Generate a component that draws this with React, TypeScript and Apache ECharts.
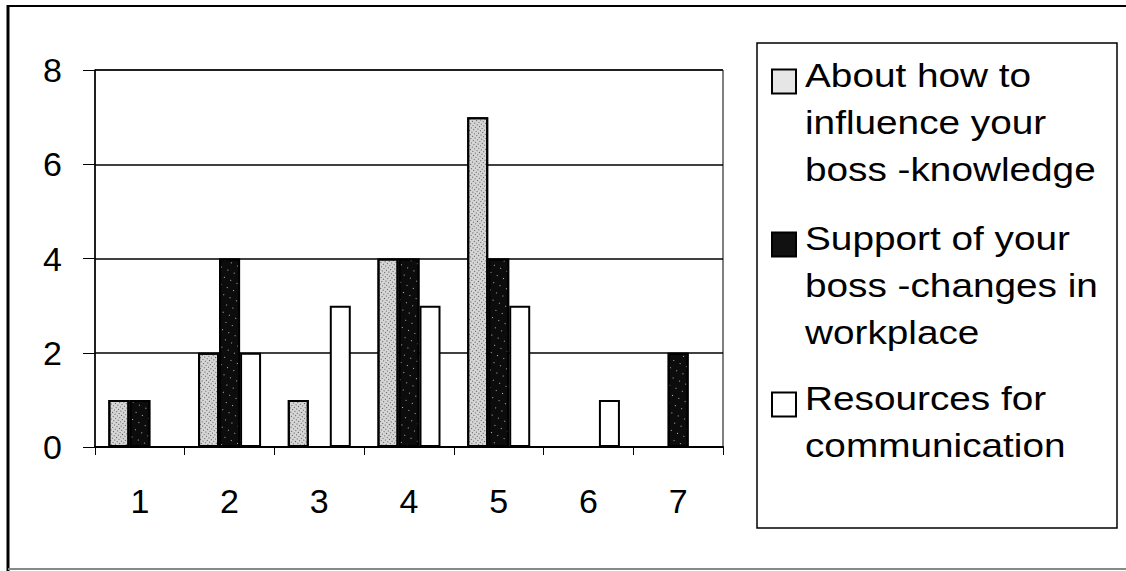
import React, { useEffect, useRef } from "react";
import * as echarts from "echarts";

// Responses per rating (1..7) for the three survey topics
const categories = ["1", "2", "3", "4", "5", "6", "7"];
const influenceKnowledge = [1, 2, 1, 4, 7, 0, 0];
const supportChanges = [1, 4, 0, 4, 4, 0, 2];
const communicationResources = [0, 2, 3, 3, 3, 1, 0];

const seriesNames = [
  "About how to influence your boss -knowledge",
  "Support of your boss -changes in workplace",
  "Resources for communication",
];
const legendLines = [
  ["About how to", "influence your", "boss -knowledge"],
  ["Support of your", "boss -changes in", "workplace"],
  ["Resources for", "communication"],
];

const FONT = "'Liberation Sans', Arial, sans-serif";

const lightSpeckle = {
  color: "#d6d6d6",
  borderColor: "#000",
  borderWidth: 2,
  decal: {
    symbol: "rect",
    symbolSize: 1,
    color: "rgba(0,0,0,0.6)",
    dashArrayX: [1, 2],
    dashArrayY: [1, 2],
    rotation: Math.PI / 5,
  },
};
const darkSpeckle = {
  color: "#0c0c0c",
  borderColor: "#000",
  borderWidth: 2,
  decal: {
    symbol: "rect",
    symbolSize: 1,
    color: "rgba(255,255,255,0.7)",
    dashArrayX: [1, 6],
    dashArrayY: [1, 7],
    rotation: Math.PI / 7,
  },
};
const plainWhite = { color: "#ffffff", borderColor: "#000", borderWidth: 2 };

export default function App() {
  const ref = useRef<HTMLDivElement>(null);

  useEffect(() => {
    if (!ref.current) return;
    const chart = echarts.init(ref.current, null, { renderer: "svg" });

    const legendStyles = [
      { fill: "#e6e6e6", stroke: "#000" },
      { fill: "#111111", stroke: "#000" },
      { fill: "#ffffff", stroke: "#000" },
    ];
    const itemTops = [51.5, 214.5, 374.5];
    const lineH = 47;

    const legendGraphics: any[] = [];
    legendLines.forEach((lines, i) => {
      const top = itemTops[i];
      legendGraphics.push({
        type: "rect",
        shape: { x: 772, y: top + 18, width: 24, height: 24 },
        style: { fill: legendStyles[i].fill, stroke: legendStyles[i].stroke, lineWidth: 2 },
      });
      legendGraphics.push({
        type: "text",
        x: 805,
        y: top,
        scaleX: 1.14,
        style: {
          text: lines.join("\n"),
          x: 0,
          y: 0,
          font: `34px ${FONT}`,
          lineHeight: lineH,
          fill: "#000",
          verticalAlign: "top",
          align: "left",
        },
      });
    });

    chart.setOption({
      animation: false,
      backgroundColor: "#ffffff",
      grid: {
        left: 95,
        right: 403,
        top: 70,
        bottom: 124,
        show: true,
        borderColor: "#000",
        borderWidth: 1,
      },
      xAxis: {
        type: "category",
        data: categories,
        boundaryGap: true,
        axisLine: { lineStyle: { color: "#000", width: 2 } },
        axisTick: { show: true, length: 8, lineStyle: { color: "#000", width: 1 } },
        axisLabel: { color: "#000", fontSize: 34, fontFamily: FONT, margin: 37 },
      },
      yAxis: {
        type: "value",
        min: 0,
        max: 8,
        interval: 2,
        axisLine: { show: true, lineStyle: { color: "#000", width: 1.5 } },
        axisTick: { show: true, length: 12, lineStyle: { color: "#000", width: 1 } },
        axisLabel: { color: "#000", fontSize: 34, fontFamily: FONT, margin: 33 },
        splitLine: { lineStyle: { color: "#000", width: 1.5 } },
      },
      series: [
        {
          name: seriesNames[0],
          type: "bar",
          data: influenceKnowledge,
          barWidth: 21,
          barGap: "0%",
          itemStyle: lightSpeckle,
        },
        {
          name: seriesNames[1],
          type: "bar",
          data: supportChanges,
          barWidth: 21,
          barGap: "0%",
          itemStyle: darkSpeckle,
        },
        {
          name: seriesNames[2],
          type: "bar",
          data: communicationResources,
          barWidth: 21,
          barGap: "0%",
          itemStyle: plainWhite,
        },
      ],
      graphic: [
        // outer frame
        { type: "line", shape: { x1: 7, y1: 6, x2: 1126, y2: 6 }, style: { stroke: "#000", lineWidth: 2 } },
        { type: "line", shape: { x1: 8, y1: 5, x2: 8, y2: 571 }, style: { stroke: "#000", lineWidth: 3 } },
        { type: "line", shape: { x1: 8, y1: 569, x2: 1126, y2: 569 }, style: { stroke: "#888", lineWidth: 2 } },
        // legend box
        {
          type: "rect",
          shape: { x: 757, y: 43, width: 360, height: 485 },
          style: { fill: "#fff", stroke: "#000", lineWidth: 1.5 },
        },
        ...legendGraphics,
      ],
    });

    return () => chart.dispose();
  }, []);

  return (
    <div
      ref={ref}
      style={{ position: "fixed", left: 0, top: 0, width: 1126, height: 571, background: "#fff" }}
    />
  );
}
